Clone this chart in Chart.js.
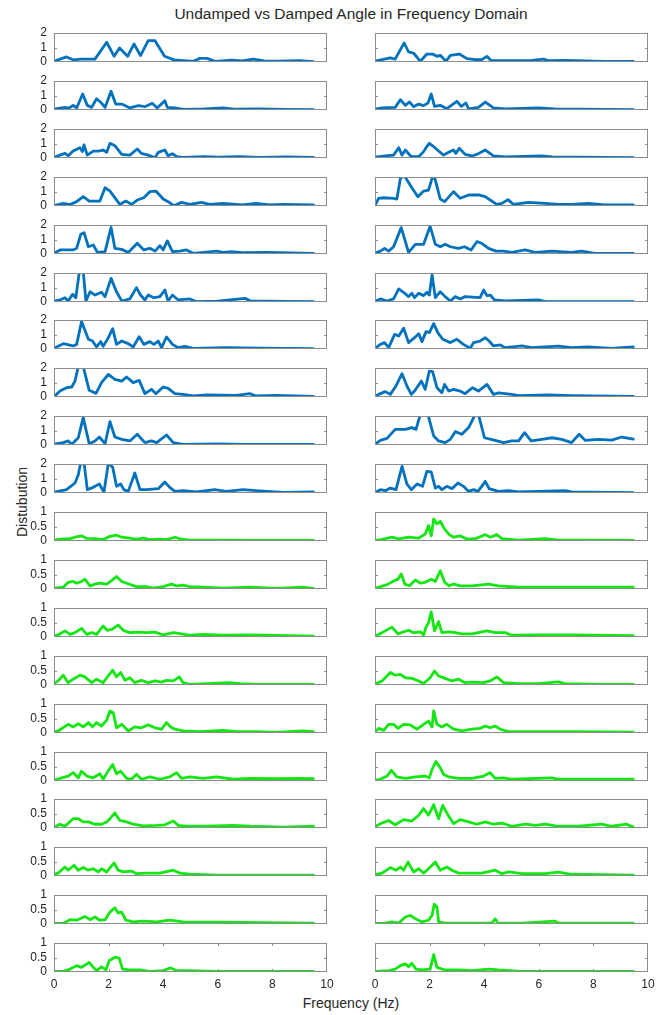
<!DOCTYPE html>
<html>
<head>
<meta charset="utf-8">
<script src="https://cdn.jsdelivr.net/npm/chart.js@4/dist/chart.umd.min.js"></script>
<style>
  body { margin: 0; background: #fff; width: 664px; height: 1015px; position: relative; overflow: hidden;
         font-family: "Liberation Sans", Arial, sans-serif; color: #262626; }
  canvas { position: absolute; }
  .lbl { position: absolute; white-space: nowrap; }
</style>
</head>
<body>
<div class="lbl" style="left:51px;width:600px;top:5px;text-align:center;font-size:15.5px">Undamped vs Damped Angle in Frequency Domain</div>
<div class="lbl" style="left:22px;top:502px;font-size:14px;transform:translate(-50%,-50%) rotate(-90deg)">Distubution</div>
<div class="lbl" style="left:51px;width:600px;top:995px;text-align:center;font-size:14px">Frequency (Hz)</div>
<script>
// tick values
const freqTicks = [0, 2, 4, 6, 8, 10]
const undampedTicks = [0, 1, 2]
const dampedTicks = [0, 0.5, 1]

// [frequency Hz, amplitude] pairs, left column top to bottom (blue, 0..2)
const undampedL1 = [[0,0.05],[0.46,0.35],[0.7,0.15],[1.0,0.2],[1.5,0.2],[1.93,1.36],[2.2,0.4],[2.4,0.97],[2.7,0.4],[2.93,1.24],[3.17,0.44],[3.45,1.47],[3.7,1.47],[4.05,0.4],[4.4,0.15],[5.1,0.05],[5.35,0.25],[5.6,0.25],[5.9,0.05],[6.5,0.12],[6.9,0.07],[7.3,0.2],[7.7,0.08],[8.2,0.06],[9.0,0.1],[9.5,0.03]]
const undampedL2 = [[0,0.05],[0.4,0.18],[0.55,0.13],[0.7,0.32],[0.83,0.14],[1.05,1.1],[1.22,0.32],[1.38,0.18],[1.56,0.78],[1.74,0.48],[1.87,0.18],[2.09,1.29],[2.26,0.41],[2.48,0.41],[2.78,0.14],[3.09,0.3],[3.33,0.23],[3.6,0.46],[3.78,0.14],[4.06,0.64],[4.15,0.18],[4.43,0.14],[4.73,0.05],[5.5,0.08],[6.2,0.14],[6.6,0.06],[7.5,0.08],[8.5,0.04],[9.5,0.02]]
const undampedL3 = [[0,0.05],[0.4,0.32],[0.52,0.16],[0.7,0.48],[0.95,0.71],[1.04,0.44],[1.1,0.9],[1.22,0.2],[1.44,0.48],[1.62,0.48],[1.8,0.55],[1.93,0.39],[2.05,1.01],[2.23,0.85],[2.48,0.25],[2.78,0.2],[3.05,0.62],[3.2,0.32],[3.45,0.2],[3.7,0.02],[3.82,0.39],[4.06,0.55],[4.18,0.16],[4.34,0.3],[4.49,0.09],[4.73,0.05],[5.5,0.1],[6.0,0.06],[6.8,0.1],[7.5,0.05],[8.5,0.07],[9.5,0.05]]
const undampedL4 = [[0,0.02],[0.34,0.18],[0.59,0.1],[0.83,0.3],[1.07,0.64],[1.29,0.34],[1.68,0.34],[1.87,1.26],[2.05,1.03],[2.41,0.11],[2.63,0.34],[2.84,0.11],[3.05,0.41],[3.29,0.57],[3.51,0.99],[3.73,1.03],[4.0,0.48],[4.18,0.3],[4.39,0.02],[4.67,0.25],[4.98,0.11],[5.4,0.25],[5.7,0.11],[6.2,0.18],[6.9,0.07],[7.4,0.18],[7.9,0.07],[8.4,0.11],[9.5,0.07]]
const undampedL5 = [[0,0.05],[0.22,0.28],[0.7,0.28],[0.83,0.39],[0.98,1.36],[1.1,1.47],[1.26,0.5],[1.44,0.62],[1.59,0.11],[1.87,0.16],[2.09,1.84],[2.23,0.39],[2.48,0.32],[2.72,0.11],[3.05,0.74],[3.29,0.28],[3.51,0.39],[3.7,0.2],[3.88,0.57],[4.0,0.28],[4.15,0.9],[4.34,0.16],[4.6,0.2],[4.85,0.28],[5.1,0.05],[5.95,0.2],[6.2,0.11],[6.5,0.16],[6.9,0.09],[7.8,0.11],[9.5,0.05]]
const undampedL6 = [[0,0.05],[0.22,0.14],[0.4,0.3],[0.52,0.07],[0.68,0.53],[0.8,0.3],[0.93,2.1],[1.07,2.1],[1.17,0.07],[1.32,0.71],[1.5,0.48],[1.74,0.67],[1.87,0.37],[2.09,1.63],[2.29,0.71],[2.48,0.07],[2.78,0.21],[3.02,0.99],[3.17,0.48],[3.33,0.14],[3.45,0.48],[3.66,0.3],[3.88,0.37],[4.06,0.83],[4.18,0.07],[4.34,0.48],[4.55,0.14],[4.98,0.21],[5.22,0.02],[6.0,0.06],[7.0,0.25],[7.2,0.07],[8.5,0.05],[9.5,0.02]]
const undampedL7 = [[0,0.05],[0.34,0.37],[0.7,0.21],[0.83,0.32],[1.01,1.89],[1.26,0.67],[1.41,0.55],[1.56,0.14],[1.71,0.51],[1.8,0.18],[1.99,0.78],[2.15,1.4],[2.29,0.32],[2.48,0.55],[2.72,0.37],[2.9,0.14],[3.12,0.85],[3.29,0.32],[3.51,0.51],[3.66,0.32],[3.82,0.55],[3.94,0.09],[4.12,0.83],[4.34,0.32],[4.55,0.09],[4.79,0.18],[5.1,0.05],[6.3,0.09],[7.5,0.06],[9.5,0.02]]
const undampedL8 = [[0,0.02],[0.22,0.41],[0.46,0.64],[0.65,0.69],[0.77,1.1],[0.89,2.1],[1.07,2.1],[1.29,0.46],[1.54,0.25],[1.74,0.99],[1.99,1.56],[2.23,1.22],[2.48,1.1],[2.66,1.38],[2.9,0.99],[3.12,1.15],[3.33,0.23],[3.57,0.53],[3.73,0.23],[4.0,0.69],[4.18,0.6],[4.43,0.23],[4.73,0.18],[5.1,0.07],[5.59,0.14],[6.68,0.11],[7.17,0.23],[7.4,0.07],[8.15,0.11],[9.5,0.05]]
const undampedL9 = [[0,0.05],[0.34,0.16],[0.52,0.28],[0.65,0.05],[0.89,0.5],[1.07,1.89],[1.29,0.09],[1.5,0.28],[1.66,0.55],[1.87,0.09],[2.05,1.61],[2.23,0.55],[2.48,0.39],[2.78,0.28],[3.05,0.74],[3.33,0.16],[3.57,0.28],[3.76,0.16],[4.12,0.69],[4.37,0.16],[4.73,0.05],[6.0,0.08],[7.0,0.05],[9.5,0.05]]
const undampedL10 = [[0,0.05],[0.46,0.23],[0.77,0.69],[0.89,1.26],[0.98,2.1],[1.1,2.1],[1.22,0.23],[1.44,0.39],[1.66,0.62],[1.83,0.07],[1.99,2.05],[2.15,1.77],[2.29,0.46],[2.44,0.62],[2.56,0.23],[2.72,0.11],[2.96,1.38],[3.15,0.23],[3.39,0.23],[3.82,0.3],[4.06,0.76],[4.24,0.39],[4.43,0.11],[4.73,0.16],[5.22,0.07],[5.89,0.23],[6.32,0.11],[6.93,0.23],[7.4,0.16],[8.4,0.05],[9.5,0.07]]

// right column (blue)
const undampedR1 = [[0,0.05],[0.26,0.16],[0.56,0.28],[0.74,0.2],[0.93,0.85],[1.07,1.31],[1.23,0.69],[1.41,0.62],[1.66,0.05],[1.9,0.55],[2.11,0.55],[2.27,0.39],[2.39,0.46],[2.6,0.05],[2.76,0.46],[3.09,0.55],[3.37,0.23],[3.67,0.16],[3.91,0.16],[4.1,0.39],[4.26,0.09],[4.77,0.09],[5.74,0.11],[6.17,0.2],[6.35,0.09],[7.0,0.11],[8.4,0.05],[9.46,0.05]]
const undampedR2 = [[0,0.05],[0.26,0.14],[0.74,0.18],[0.93,0.71],[1.11,0.32],[1.26,0.55],[1.41,0.23],[1.6,0.41],[1.78,0.3],[1.94,0.48],[2.06,1.1],[2.18,0.25],[2.39,0.32],[2.63,0.09],[3.0,0.6],[3.16,0.25],[3.33,0.48],[3.43,0.07],[3.79,0.18],[4.04,0.55],[4.34,0.14],[4.77,0.07],[5.99,0.14],[6.6,0.07],[9.46,0.02]]
const undampedR3 = [[0,0.05],[0.38,0.14],[0.68,0.2],[0.87,0.71],[0.99,0.2],[1.11,0.55],[1.33,0.09],[1.6,0.09],[1.78,0.44],[1.87,0.71],[1.99,1.01],[2.15,0.78],[2.33,0.48],[2.51,0.2],[2.7,0.39],[2.88,0.55],[2.96,0.32],[3.09,0.67],[3.3,0.25],[3.55,0.14],[3.73,0.25],[4.04,0.55],[4.34,0.14],[4.77,0.07],[6.11,0.14],[6.5,0.07],[9.46,0.02]]
const undampedR4 = [[0,0.02],[0.13,0.53],[0.32,0.57],[0.68,0.53],[0.8,0.48],[0.93,1.9],[1.07,2.1],[1.35,1.26],[1.57,0.64],[1.78,1.03],[1.96,1.1],[2.09,1.9],[2.18,2.0],[2.39,0.48],[2.55,0.3],[2.88,0.99],[3.12,0.53],[3.43,0.76],[3.79,0.76],[4.04,0.64],[4.46,0.11],[4.65,0.18],[4.87,0.44],[5.07,0.11],[5.62,0.25],[6.23,0.18],[6.72,0.11],[7.2,0.11],[7.82,0.18],[8.4,0.07],[9.46,0.07]]
const undampedR5 = [[0,0.05],[0.2,0.2],[0.35,0.39],[0.5,0.2],[0.68,0.5],[0.96,1.82],[1.23,0.11],[1.48,0.67],[1.78,0.67],[2.02,1.91],[2.21,0.67],[2.39,0.5],[2.57,0.67],[2.76,0.5],[3.06,0.39],[3.28,0.5],[3.52,0.28],[3.73,0.85],[3.91,0.74],[4.16,0.39],[4.43,0.2],[4.71,0.2],[5.01,0.11],[5.5,0.28],[5.87,0.11],[6.48,0.2],[7.2,0.11],[7.57,0.2],[8.05,0.05],[9.46,0.05]]
const undampedR6 = [[0,0.05],[0.2,0.21],[0.44,0.07],[0.68,0.21],[0.87,0.9],[1.09,0.6],[1.23,0.37],[1.35,0.6],[1.45,0.3],[1.6,0.6],[1.78,0.44],[1.9,0.67],[1.99,0.48],[2.09,1.86],[2.21,0.3],[2.39,0.71],[2.57,0.37],[2.76,0.07],[2.94,0.37],[3.12,0.21],[3.3,0.37],[3.85,0.3],[3.98,0.83],[4.1,0.44],[4.22,0.48],[4.38,0.14],[4.77,0.07],[5.99,0.14],[6.23,0.02],[9.46,0.02]]
const undampedR7 = [[0,0.05],[0.2,0.32],[0.35,0.44],[0.5,0.09],[0.72,1.01],[0.87,0.9],[1.05,1.43],[1.23,0.44],[1.45,0.78],[1.6,1.06],[1.72,0.51],[1.87,1.2],[1.99,1.13],[2.15,1.75],[2.3,1.13],[2.48,0.67],[2.76,0.44],[3.0,0.67],[3.24,0.32],[3.49,0.05],[3.61,0.44],[3.85,0.55],[4.04,0.78],[4.18,0.55],[4.34,0.21],[4.59,0.28],[4.77,0.09],[5.38,0.21],[5.74,0.09],[6.72,0.2],[7.2,0.09],[7.8,0.14],[8.67,0.05],[9.46,0.14]]
const undampedR8 = [[0,0.05],[0.13,0.18],[0.38,0.37],[0.56,0.18],[0.77,0.76],[0.99,1.61],[1.17,0.76],[1.33,0.18],[1.45,0.41],[1.7,1.1],[1.84,0.53],[1.99,1.79],[2.11,1.75],[2.27,0.64],[2.45,0.3],[2.55,0.87],[2.7,0.41],[2.88,0.53],[3.12,0.41],[3.3,0.23],[3.57,0.64],[3.79,0.41],[4.1,0.87],[4.34,0.18],[4.52,0.28],[5.01,0.18],[5.26,0.09],[6.35,0.14],[7.2,0.09],[9.46,0.05]]
const undampedR9 = [[0,0.05],[0.2,0.32],[0.44,0.46],[0.74,1.08],[1.11,1.08],[1.35,1.2],[1.5,1.08],[1.66,2.1],[1.94,2.1],[2.15,0.62],[2.33,0.28],[2.57,0.16],[2.76,0.39],[2.94,0.92],[3.18,0.74],[3.43,1.2],[3.67,2.1],[3.79,2.1],[4.01,0.5],[4.4,0.32],[4.71,0.16],[5.01,0.28],[5.26,0.28],[5.48,0.85],[5.72,0.28],[6.11,0.39],[6.48,0.5],[6.84,0.39],[7.2,0.16],[7.48,0.74],[7.7,0.32],[8.18,0.39],[8.67,0.34],[9.04,0.55],[9.46,0.41]]
const undampedR10 = [[0,0.02],[0.2,0.23],[0.38,0.16],[0.56,0.34],[0.77,0.23],[0.99,1.84],[1.17,0.62],[1.33,0.23],[1.54,0.62],[1.74,0.46],[1.9,1.49],[2.06,1.45],[2.21,0.34],[2.33,0.46],[2.45,0.23],[2.63,0.46],[2.82,0.3],[3.04,0.69],[3.24,0.46],[3.43,0.11],[3.61,0.23],[3.77,0.11],[3.91,0.46],[4.04,0.8],[4.18,0.3],[4.52,0.11],[4.89,0.16],[5.26,0.07],[6.96,0.16],[7.2,0.07],[9.46,0.02]]

// left column (green, 0..1)
const dampedL1 = [[0,0.03],[0.22,0.06],[0.59,0.08],[0.77,0.13],[1.01,0.18],[1.2,0.09],[1.5,0.08],[1.8,0.05],[2.05,0.16],[2.29,0.2],[2.48,0.13],[2.78,0.1],[3.02,0.06],[3.27,0.1],[3.51,0.05],[3.88,0.06],[4.12,0.05],[4.43,0.13],[4.67,0.06],[4.98,0.03],[6.0,0.03],[7.2,0.02],[9.5,0.02]]
const dampedL2 = [[0,0.03],[0.34,0.06],[0.52,0.23],[0.7,0.26],[0.83,0.2],[1.01,0.26],[1.13,0.34],[1.32,0.11],[1.5,0.17],[1.68,0.2],[1.93,0.17],[2.11,0.29],[2.29,0.43],[2.48,0.26],[2.66,0.2],[3.02,0.08],[3.39,0.08],[3.63,0.03],[4.0,0.08],[4.3,0.17],[4.49,0.11],[4.73,0.13],[4.98,0.08],[5.46,0.06],[6.2,0.03],[7.2,0.06],[8.15,0.02],[9.1,0.06],[9.5,0.02]]
const dampedL3 = [[0,0.03],[0.15,0.07],[0.4,0.21],[0.59,0.09],[0.77,0.15],[1.01,0.3],[1.2,0.09],[1.38,0.15],[1.56,0.09],[1.8,0.38],[1.95,0.23],[2.11,0.26],[2.35,0.41],[2.54,0.23],[2.78,0.15],[3.09,0.17],[3.39,0.15],[3.7,0.17],[4.0,0.07],[4.37,0.15],[4.67,0.11],[4.98,0.06],[5.46,0.09],[6.2,0.06],[7.2,0.07],[9.5,0.03]]
const dampedL4 = [[0,0.05],[0.15,0.14],[0.34,0.34],[0.52,0.08],[0.7,0.2],[0.95,0.34],[1.13,0.28],[1.38,0.08],[1.56,0.2],[1.8,0.08],[1.98,0.31],[2.15,0.51],[2.29,0.28],[2.44,0.43],[2.6,0.16],[2.78,0.25],[2.96,0.08],[3.2,0.16],[3.45,0.08],[3.7,0.14],[3.94,0.1],[4.12,0.16],[4.37,0.14],[4.59,0.28],[4.73,0.08],[4.98,0.02],[5.59,0.05],[6.44,0.08],[6.8,0.05],[7.4,0.02],[9.5,0.02]]
const dampedL5 = [[0,0.03],[0.15,0.07],[0.52,0.3],[0.7,0.21],[0.89,0.32],[1.07,0.21],[1.26,0.36],[1.41,0.21],[1.56,0.36],[1.74,0.24],[1.93,0.44],[2.05,0.76],[2.17,0.7],[2.29,0.18],[2.48,0.3],[2.72,0.07],[2.96,0.21],[3.2,0.18],[3.45,0.28],[3.7,0.18],[3.94,0.13],[4.12,0.36],[4.27,0.21],[4.43,0.13],[4.73,0.07],[5.34,0.05],[6.2,0.09],[6.68,0.05],[7.4,0.05],[8.15,0.02],[9.1,0.07],[9.5,0.05]]
const dampedL6 = [[0,0.03],[0.22,0.09],[0.52,0.17],[0.7,0.29],[0.89,0.11],[1.01,0.34],[1.2,0.17],[1.44,0.11],[1.68,0.25],[1.8,0.06],[1.98,0.34],[2.15,0.57],[2.29,0.25],[2.44,0.34],[2.66,0.09],[2.84,0.06],[3.02,0.23],[3.2,0.06],[3.51,0.14],[3.88,0.06],[4.24,0.14],[4.49,0.29],[4.67,0.09],[4.98,0.14],[5.46,0.09],[5.95,0.14],[6.56,0.06],[7.2,0.09],[8.15,0.08],[9.0,0.09],[9.5,0.08]]
const dampedL7 = [[0,0.03],[0.22,0.13],[0.4,0.06],[0.7,0.32],[0.89,0.32],[1.07,0.21],[1.26,0.21],[1.5,0.13],[1.74,0.13],[1.93,0.21],[2.05,0.32],[2.23,0.52],[2.41,0.26],[2.66,0.21],[2.9,0.13],[3.27,0.07],[3.76,0.09],[4.06,0.11],[4.37,0.24],[4.55,0.09],[4.85,0.06],[5.59,0.06],[6.56,0.09],[7.2,0.06],[8.4,0.03],[9.5,0.06]]
const dampedL8 = [[0,0.05],[0.15,0.1],[0.4,0.31],[0.52,0.2],[0.73,0.37],[0.89,0.2],[1.07,0.29],[1.26,0.2],[1.44,0.25],[1.62,0.14],[1.74,0.25],[1.93,0.14],[2.2,0.45],[2.35,0.2],[2.54,0.14],[2.84,0.17],[3.02,0.08],[3.39,0.1],[3.88,0.1],[4.37,0.2],[4.61,0.1],[4.98,0.06],[5.95,0.03],[9.5,0.03]]
const dampedL9 = [[0,0.02],[0.34,0.03],[0.59,0.15],[0.83,0.13],[1.13,0.26],[1.32,0.15],[1.5,0.24],[1.68,0.13],[1.87,0.15],[2.05,0.41],[2.23,0.56],[2.35,0.38],[2.48,0.41],[2.63,0.13],[2.9,0.07],[3.27,0.1],[3.76,0.07],[4.24,0.13],[4.73,0.07],[5.95,0.06],[9.5,0.03]]
const dampedL10 = [[0,0.02],[0.34,0.02],[0.59,0.1],[0.83,0.22],[1.01,0.16],[1.29,0.33],[1.44,0.16],[1.56,0.05],[1.74,0.18],[1.9,0.07],[2.02,0.39],[2.23,0.51],[2.39,0.48],[2.51,0.1],[2.78,0.07],[3.15,0.07],[3.51,0.02],[4.0,0.05],[4.27,0.14],[4.49,0.05],[4.98,0.05],[5.95,0.02],[9.5,0.02]]

// right column (green)
const dampedR1 = [[0,0.02],[0.26,0.06],[0.62,0.13],[0.87,0.07],[1.23,0.13],[1.6,0.1],[1.84,0.24],[1.96,0.53],[2.06,0.18],[2.15,0.76],[2.27,0.59],[2.39,0.68],[2.55,0.41],[2.72,0.22],[2.88,0.13],[3.12,0.18],[3.37,0.06],[3.67,0.08],[4.04,0.22],[4.22,0.13],[4.46,0.22],[4.65,0.08],[5.26,0.03],[6.23,0.08],[6.72,0.03],[7.7,0.03],[9.46,0.02]]
const dampedR2 = [[0,0.03],[0.2,0.08],[0.44,0.15],[0.65,0.26],[0.84,0.34],[0.96,0.52],[1.09,0.17],[1.26,0.11],[1.48,0.31],[1.66,0.2],[1.84,0.23],[2.06,0.34],[2.21,0.26],[2.39,0.63],[2.55,0.23],[2.72,0.11],[2.88,0.17],[3.12,0.11],[3.55,0.11],[4.16,0.17],[4.52,0.11],[5.26,0.06],[7.2,0.06],[9.46,0.06]]
const dampedR3 = [[0,0.03],[0.26,0.15],[0.62,0.34],[0.84,0.11],[1.05,0.18],[1.23,0.23],[1.41,0.15],[1.66,0.18],[1.78,0.07],[1.87,0.34],[1.96,0.49],[2.06,0.87],[2.18,0.21],[2.33,0.53],[2.45,0.15],[2.7,0.18],[2.94,0.15],[3.18,0.11],[3.55,0.11],[4.1,0.21],[4.4,0.15],[4.77,0.15],[5.01,0.06],[5.99,0.07],[7.2,0.07],[9.46,0.05]]
const dampedR4 = [[0,0.03],[0.26,0.14],[0.56,0.43],[0.74,0.34],[0.93,0.37],[1.11,0.25],[1.35,0.23],[1.6,0.14],[1.78,0.05],[2.02,0.25],[2.18,0.48],[2.33,0.31],[2.57,0.23],[2.82,0.14],[3.06,0.2],[3.3,0.08],[3.55,0.1],[3.98,0.08],[4.22,0.14],[4.46,0.28],[4.71,0.08],[5.26,0.05],[5.99,0.05],[6.72,0.11],[6.96,0.05],[8.2,0.02],[9.46,0.02]]
const dampedR5 = [[0,0.03],[0.13,0.16],[0.32,0.09],[0.5,0.3],[0.68,0.3],[0.84,0.16],[1.05,0.3],[1.29,0.28],[1.54,0.13],[1.78,0.3],[1.96,0.41],[2.09,0.21],[2.15,0.76],[2.27,0.3],[2.45,0.21],[2.63,0.3],[2.88,0.13],[3.18,0.07],[3.55,0.13],[3.85,0.16],[4.04,0.24],[4.22,0.18],[4.4,0.24],[4.59,0.13],[4.89,0.05],[5.99,0.05],[7.2,0.05],[9.46,0.03]]
const dampedR6 = [[0,0.03],[0.2,0.06],[0.44,0.17],[0.6,0.37],[0.8,0.14],[1.11,0.09],[1.48,0.14],[1.84,0.17],[1.99,0.11],[2.09,0.4],[2.23,0.67],[2.39,0.46],[2.51,0.23],[2.7,0.14],[3.06,0.09],[3.55,0.09],[3.98,0.17],[4.22,0.29],[4.4,0.09],[4.71,0.11],[5.01,0.06],[6.48,0.11],[6.72,0.06],[9.46,0.06]]
const dampedR7 = [[0,0.05],[0.2,0.15],[0.5,0.26],[0.74,0.11],[1.05,0.29],[1.35,0.24],[1.6,0.44],[1.78,0.67],[1.96,0.44],[2.15,0.8],[2.33,0.32],[2.48,0.78],[2.66,0.47],[2.88,0.15],[3.12,0.29],[3.43,0.21],[3.73,0.13],[4.04,0.21],[4.34,0.13],[4.65,0.17],[5.01,0.06],[5.5,0.13],[5.87,0.09],[6.23,0.13],[6.72,0.06],[7.45,0.06],[8.3,0.13],[8.67,0.06],[9.22,0.13],[9.46,0.03]]
const dampedR8 = [[0,0.05],[0.26,0.1],[0.56,0.29],[0.77,0.2],[0.93,0.31],[1.05,0.2],[1.21,0.48],[1.41,0.14],[1.6,0.25],[1.78,0.1],[1.96,0.25],[2.21,0.48],[2.39,0.2],[2.63,0.31],[2.82,0.2],[3.06,0.1],[3.55,0.1],[3.91,0.1],[4.4,0.2],[4.65,0.08],[4.89,0.14],[5.38,0.08],[6.23,0.08],[6.72,0.13],[7.2,0.06],[9.46,0.03]]
const dampedR9 = [[0,0.02],[0.38,0.03],[0.62,0.07],[0.87,0.03],[1.11,0.24],[1.29,0.3],[1.48,0.18],[1.72,0.07],[1.96,0.13],[2.09,0.3],[2.17,0.68],[2.27,0.59],[2.33,0.07],[2.57,0.03],[3.06,0.03],[4.28,0.03],[4.4,0.18],[4.5,0.03],[5.38,0.03],[6.6,0.1],[6.72,0.03],[9.46,0.03]]
const dampedR10 = [[0,0.02],[0.5,0.05],[0.74,0.1],[0.93,0.22],[1.11,0.28],[1.23,0.18],[1.35,0.3],[1.5,0.1],[1.72,0.07],[2.02,0.1],[2.15,0.6],[2.27,0.16],[2.57,0.07],[3.06,0.07],[3.55,0.05],[4.16,0.1],[4.52,0.07],[5.38,0.02],[9.46,0.02]]

const leftPanels = [undampedL1, undampedL2, undampedL3, undampedL4, undampedL5, undampedL6, undampedL7, undampedL8, undampedL9, undampedL10,
  dampedL1, dampedL2, dampedL3, dampedL4, dampedL5, dampedL6, dampedL7, dampedL8, dampedL9, dampedL10]
const rightPanels = [undampedR1, undampedR2, undampedR3, undampedR4, undampedR5, undampedR6, undampedR7, undampedR8, undampedR9, undampedR10,
  dampedR1, dampedR2, dampedR3, dampedR4, dampedR5, dampedR6, dampedR7, dampedR8, dampedR9, dampedR10]

const BLUE = '#0072bd'
const GREEN = '#14e614'
const BOX = '#8c8c8c'
const FONT = { family: '"Liberation Sans", Arial, sans-serif', size: 12 }

// layout of the grid (px)
const TOP = 33, PITCH = 47.9, PLOT_H = 29, PLOT_W = 273
const COL_X = [54, 375]

// axes box with inward tick marks, like matlab
const boxPlugin = {
  id: 'box',
  afterDatasetsDraw(chart, args, opts) {
    const { ctx, chartArea: a, scales: { x, y } } = chart
    ctx.save()
    ctx.strokeStyle = BOX
    ctx.lineWidth = 1
    ctx.strokeRect(a.left + 0.5, a.top + 0.5, a.width - 1, a.height - 1)
    ctx.beginPath()
    opts.yTicks.forEach(v => {
      if (v === opts.yTicks[0] || v === opts.yTicks[opts.yTicks.length - 1]) return
      const py = Math.round(y.getPixelForValue(v)) + 0.5
      ctx.moveTo(a.left, py); ctx.lineTo(a.left + 3, py)
      ctx.moveTo(a.right, py); ctx.lineTo(a.right - 3, py)
    })
    if (opts.showX) {
      freqTicks.slice(1, -1).forEach(v => {
        const px = Math.round(x.getPixelForValue(v)) + 0.5
        ctx.moveTo(px, a.top); ctx.lineTo(px, a.top + 3)
        ctx.moveTo(px, a.bottom); ctx.lineTo(px, a.bottom - 3)
      })
    }
    ctx.stroke()
    ctx.restore()
  }
}

// drop the label overflow padding chart.js adds, layout.padding takes care of it
function noOverflow(s) {
  s.paddingTop = 0; s.paddingBottom = 0; s.paddingLeft = 0; s.paddingRight = 0
}

function makePanel(data, row, col) {
  const undamped = row < 10
  const yTicks = undamped ? undampedTicks : dampedTicks
  const last = row === 19
  const padL = col === 0 ? 0 : 6
  const yW = col === 0 ? 54 : 0
  const xH = last ? 24 : 0
  const top = Math.round(TOP + PITCH * row)

  const cv = document.createElement('canvas')
  cv.width = padL + yW + PLOT_W + 10
  cv.height = 8 + PLOT_H + (last ? xH : 8)
  cv.style.left = (COL_X[col] - padL - yW) + 'px'
  cv.style.top = (top - 8) + 'px'
  document.body.appendChild(cv)

  new Chart(cv, {
    type: 'line',
    data: {
      datasets: [{
        data: data.map(p => ({ x: p[0], y: p[1] })),
        borderColor: undamped ? BLUE : GREEN,
        borderWidth: 2.8,
        borderJoinStyle: 'round',
        borderCapStyle: 'round',
        pointRadius: 0,
        tension: 0,
      }],
    },
    options: {
      responsive: false,
      animation: false,
      devicePixelRatio: 1,
      layout: { padding: { left: padL, right: 10, top: 8, bottom: last ? 0 : 8 } },
      plugins: {
        legend: { display: false },
        tooltip: { enabled: false },
        box: { yTicks, showX: last },
      },
      scales: {
        x: {
          type: 'linear', min: 0, max: 10,
          display: last,
          grid: { display: false, drawTicks: false },
          border: { display: false },
          ticks: { color: '#262626', font: FONT, padding: 5, maxRotation: 0, autoSkip: false, callback: v => String(v) },
          afterBuildTicks: s => { s.ticks = freqTicks.map(v => ({ value: v })) },
          afterFit: s => { s.height = xH; noOverflow(s) },
        },
        y: {
          min: 0, max: yTicks[yTicks.length - 1],
          display: col === 0,
          grid: { display: false, drawTicks: false },
          border: { display: false },
          ticks: { color: '#262626', font: FONT, padding: 7, autoSkip: false, callback: v => String(v) },
          afterBuildTicks: s => { s.ticks = yTicks.map(v => ({ value: v })) },
          afterFit: s => { s.width = yW; noOverflow(s) },
        },
      },
    },
    plugins: [boxPlugin],
  })
}

leftPanels.forEach((d, i) => makePanel(d, i, 0))
rightPanels.forEach((d, i) => makePanel(d, i, 1))
</script>
</body>
</html>
